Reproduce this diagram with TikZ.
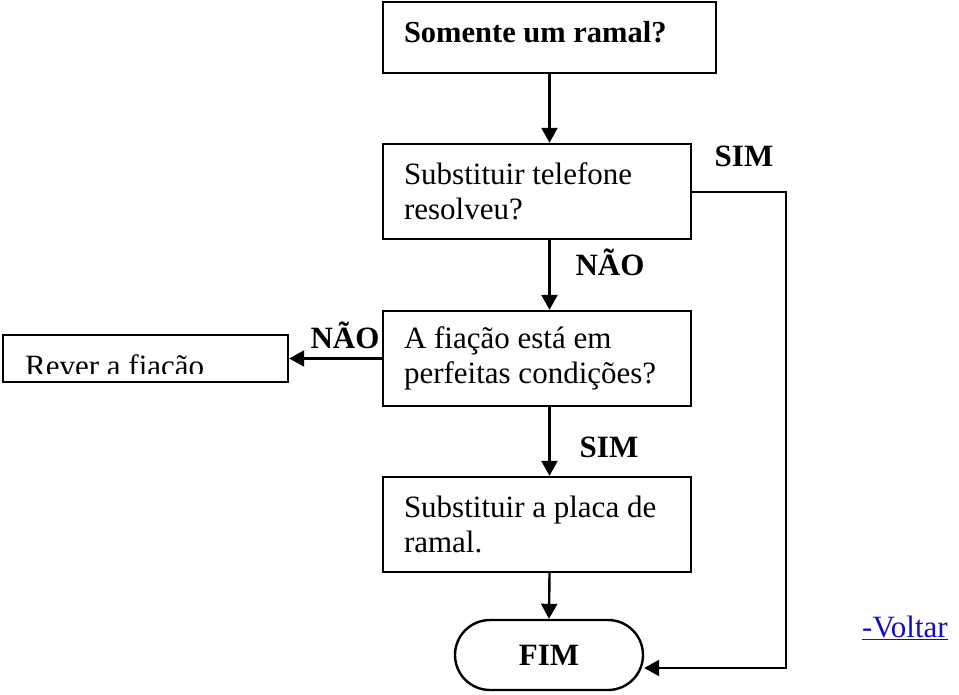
\documentclass[tikz,border=0pt]{standalone}
\usepackage{fontspec}
\setmainfont{Liberation Serif}
\usetikzlibrary{arrows.meta,calc}
\definecolor{voltar}{RGB}{16,16,190}
\begin{document}
\begin{tikzpicture}[x=1pt,y=-1pt,
  font=\fontsize{31}{35}\selectfont,
  box/.style={draw,line width=2.4pt,rectangle,minimum height=95pt,inner xsep=21pt,inner ysep=0pt,align=flush left},
  conn/.style={line width=2.4pt,-{Triangle[length=15pt,width=16pt]}},
  lbl/.style={font=\fontsize{31}{35}\selectfont\bfseries,inner sep=0pt,anchor=base}]
\useasboundingbox (0,0) rectangle (959,695);
% boxes
\node[box,minimum width=333pt,minimum height=71pt,text width=291pt,text depth=12pt,font=\fontsize{30.5}{35}\selectfont\bfseries] (b1) at (549.5,37.5) {Somente um ramal?};
\node[box,minimum width=308pt,text width=266pt] (b2) at (537,191.5) {Substituir telefone\\resolveu?};
\node[box,minimum width=308pt,text width=266pt] (b3) at (537,358.5) {A fiação está em\\perfeitas condições?};
\node[box,minimum width=308pt,text width=266pt] (b4) at (537,524.5) {Substituir a placa de\\ramal.};
\begin{scope}
\clip (5,337) rectangle (286,373);
\node[anchor=base west,inner sep=0pt] (rvtext) at (25,376) {Rever a fiação};
\end{scope}
\node[draw,line width=2.4pt,minimum width=285pt,minimum height=47pt,inner sep=0pt] (rv) at (145.5,358.5) {};
\node[draw,line width=2.4pt,rounded corners=35pt,minimum width=188pt,minimum height=70pt,font=\fontsize{31}{35}\selectfont\bfseries] (fim) at (549,655) {FIM};
% connectors
\draw[conn] (b1.south) -- (b1.south |- b2.north);
\draw[conn] (b1.south |- b2.south) -- (b1.south |- b3.north);
\draw[conn] (b1.south |- b3.south) -- (b1.south |- b4.north);
\draw[conn] (b1.south |- b4.south) -- (fim.north);
\coordinate (simc) at (786,192);
\coordinate (simb) at (786,668);
\draw[conn] (b2.east |- simc) -- (simc) -- (simb) -- (fim.east |- simb);
\draw[conn] (b3.west) -- (rv.east);
% labels
\node[lbl] (l1) at (744,167) {SIM};
\node[lbl] (l2) at (610,276) {NÃO};
\node[lbl] (l3) at (345,348) {NÃO};
\node[lbl] (l4) at (609,457) {SIM};
\node[anchor=base,inner sep=0pt,text=voltar] (vt) at (905,637) {\underline{-Voltar}};
\end{tikzpicture}
\end{document}
